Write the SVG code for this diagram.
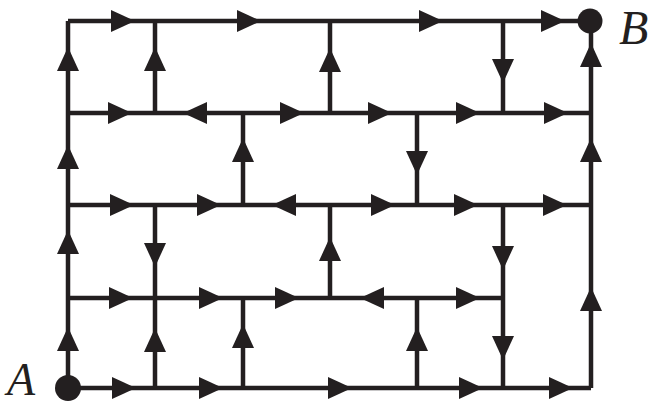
<svg xmlns="http://www.w3.org/2000/svg" xmlns:xlink="http://www.w3.org/1999/xlink" width="649" height="405" viewBox="0 0 649 405">
<style>
.ln{fill:none;stroke:#231f20;stroke-width:4.5;stroke-linecap:butt}
.ah{fill:#231f20}
.dot{fill:#231f20}
.lbl{font-family:"Liberation Serif",serif;font-style:italic;font-size:48px;fill:#231f20}
</style>
<defs>
<path id="ar" class="ah" d="M12,0 L-12,-11 L-12,11 Z"/>
</defs>
<rect width="649" height="405" fill="#fff"/>
<g id="connectors">
<path class="ln" d="M68,21H591 M68,113H591 M68,205H591 M68,298H503 M68,388H591 M68,21V388 M591,21V388 M155,21V113 M155,205V388 M243,113V205 M243,298V388 M330,21V113 M330,205V298 M417,113V205 M417,298V388 M503,21V113 M503,205V388"/>
<g id="arrows">
<use xlink:href="#ar" transform="translate(123,21)"/>
<use xlink:href="#ar" transform="translate(249,21)"/>
<use xlink:href="#ar" transform="translate(431,21)"/>
<use xlink:href="#ar" transform="translate(553,21)"/>
<use xlink:href="#ar" transform="translate(68,59) rotate(-90)"/>
<use xlink:href="#ar" transform="translate(155,59) rotate(-90)"/>
<use xlink:href="#ar" transform="translate(330,60) rotate(-90)"/>
<use xlink:href="#ar" transform="translate(503,71) rotate(90)"/>
<use xlink:href="#ar" transform="translate(591,55) rotate(-90)"/>
<use xlink:href="#ar" transform="translate(120,113)"/>
<use xlink:href="#ar" transform="translate(195,113) rotate(180)"/>
<use xlink:href="#ar" transform="translate(292,113)"/>
<use xlink:href="#ar" transform="translate(380,113)"/>
<use xlink:href="#ar" transform="translate(468,113)"/>
<use xlink:href="#ar" transform="translate(556,113)"/>
<use xlink:href="#ar" transform="translate(68,157) rotate(-90)"/>
<use xlink:href="#ar" transform="translate(243,150) rotate(-90)"/>
<use xlink:href="#ar" transform="translate(417,163) rotate(90)"/>
<use xlink:href="#ar" transform="translate(591,150) rotate(-90)"/>
<use xlink:href="#ar" transform="translate(122,205)"/>
<use xlink:href="#ar" transform="translate(209,205)"/>
<use xlink:href="#ar" transform="translate(284,205) rotate(180)"/>
<use xlink:href="#ar" transform="translate(383,205)"/>
<use xlink:href="#ar" transform="translate(466,205)"/>
<use xlink:href="#ar" transform="translate(555,205)"/>
<use xlink:href="#ar" transform="translate(68,242) rotate(-90)"/>
<use xlink:href="#ar" transform="translate(155,255) rotate(90)"/>
<use xlink:href="#ar" transform="translate(330,249) rotate(-90)"/>
<use xlink:href="#ar" transform="translate(503,258) rotate(90)"/>
<use xlink:href="#ar" transform="translate(591,299) rotate(-90)"/>
<use xlink:href="#ar" transform="translate(121,298)"/>
<use xlink:href="#ar" transform="translate(211,298)"/>
<use xlink:href="#ar" transform="translate(287,298)"/>
<use xlink:href="#ar" transform="translate(372,298) rotate(180)"/>
<use xlink:href="#ar" transform="translate(468,298)"/>
<use xlink:href="#ar" transform="translate(68,339) rotate(-90)"/>
<use xlink:href="#ar" transform="translate(155,340) rotate(-90)"/>
<use xlink:href="#ar" transform="translate(243,336) rotate(-90)"/>
<use xlink:href="#ar" transform="translate(417,339) rotate(-90)"/>
<use xlink:href="#ar" transform="translate(503,348) rotate(90)"/>
<use xlink:href="#ar" transform="translate(124,388)"/>
<use xlink:href="#ar" transform="translate(211,388)"/>
<use xlink:href="#ar" transform="translate(340,388)"/>
<use xlink:href="#ar" transform="translate(471,388)"/>
<use xlink:href="#ar" transform="translate(561,388)"/>
</g>
</g>
<g id="node-A">
<circle class="dot" cx="68" cy="388" r="13"/>
<text class="lbl" x="7" y="395" style="font-size:46px">A</text>
</g>
<g id="node-B">
<circle class="dot" cx="590" cy="21" r="12.5"/>
<text class="lbl" x="619" y="44">B</text>
</g>
</svg>
